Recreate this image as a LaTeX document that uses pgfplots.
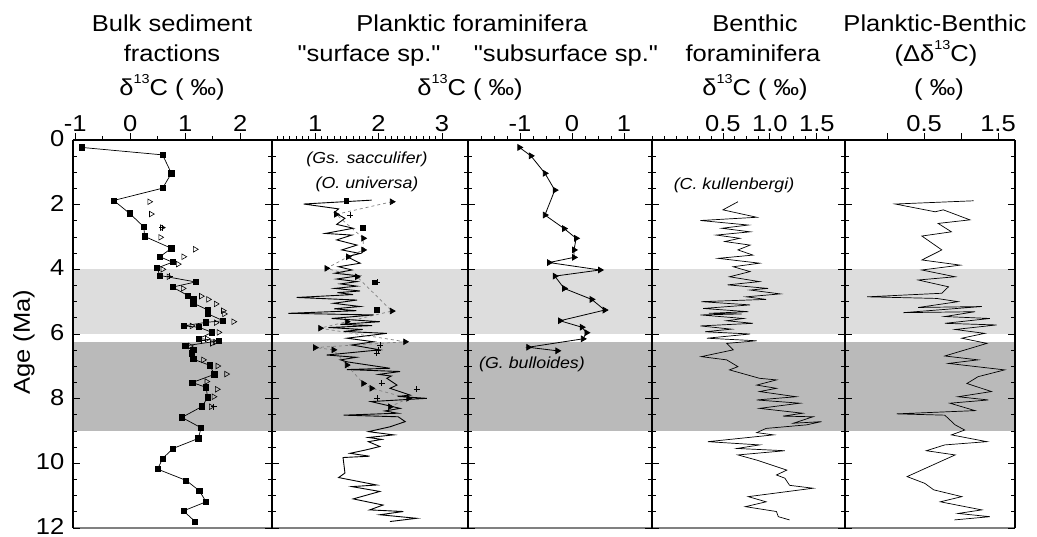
\documentclass[border=0pt]{standalone}
\usepackage{fontspec}
\setmainfont{Liberation Sans}[FakeStretch=1.11]
\newfontfamily\qfont{Liberation Sans}[FakeStretch=1.11]
\usepackage{pgfplots}
\pgfplotsset{compat=1.18}
\definecolor{bandlight}{RGB}{221,221,221}
\definecolor{banddark}{RGB}{186,186,186}
\newcommand{\T}{\fontsize{23}{28}\selectfont}
\newcommand{\A}{\fontsize{16}{20}\selectfont\itshape}
\newcommand{\up}[1]{\raisebox{0.55em}{\fontsize{13}{13}\selectfont #1}}
\newcommand{\dC}{δ\up{13}C}
% grey bands and grey base line, drawn in each panel
\newcommand{\bands}[2]{%
  \fill[bandlight] (axis cs:#1,4) rectangle (axis cs:#2,6);
  \fill[banddark] (axis cs:#1,6.25) rectangle (axis cs:#2,9);
  \draw[gray, line width=2.5pt] (axis cs:#1,12) -- (axis cs:#2,12);}
\pgfplotsset{
  panel/.style={
    scale only axis, height=388pt, ymin=0, ymax=12, y dir=reverse,
    axis x line*=top, axis y line*=box, clip=false, axis on top,
    xtick align=outside, ytick align=inside,
    ytick={0,2,...,12}, minor y tick num=3, yticklabels={},
    major tick length=7pt, minor tick length=4pt,
    every tick/.style={black, line width=0.8pt},
    axis line style={line width=1.3pt},
    tick label style={font=\T}, /pgf/number format/assume math mode=true,
    xticklabel style={yshift=-2pt},
  },
  sq/.style={black, line width=0.7pt, mark=square*, mark size=2.6pt},
  otri/.style={only marks, mark=triangle, mark size=3.2pt, mark options={rotate=-90, black, line width=0.6pt}},
  ftri/.style={mark=triangle*, mark size=3.2pt, mark options={rotate=-90, black, solid, fill=black}},
  crs/.style={only marks, mark=+, mark size=3pt, mark options={black, line width=0.6pt}},
}
\begin{document}
\begin{tikzpicture}
\useasboundingbox (0,0) rectangle (1037pt,-537pt);

% bulk sediment
\begin{axis}[panel, at={(73pt,-140pt)}, anchor=north west, width=199pt,
  xmin=-1.04, xmax=2.58, xtick={-1,0,1,2}, minor x tick num=1,
  yticklabels={0,2,4,6,8,10,12}, ytick={0,2,...,12},
  yticklabel style={font=\T, inner sep=0.5pt, text depth=0pt, xshift=-8pt, yshift=1.5pt}]
\bands{-1.04}{2.58}
\addplot[sq] coordinates {(-0.88,0.23)(0.59,0.46)(0.75,1.03)(0.59,1.49)(-0.30,1.87)(-0.01,2.27)(0.25,2.69)(0.26,2.98)(0.75,3.35)(0.54,3.61)(0.77,3.78)(0.49,3.96)(0.54,4.19)(1.19,4.39)(0.77,4.55)(1.05,4.81)(1.15,4.93)(1.15,5.05)(1.42,5.26)(1.42,5.38)(1.69,5.59)(1.38,5.64)(0.97,5.75)(1.25,5.79)(1.49,5.95)(1.25,6.14)(1.62,6.21)(0.99,6.37)(1.15,6.50)(1.12,6.60)(1.15,6.78)(1.45,6.97)(1.53,7.25)(1.13,7.50)(1.38,7.65)(1.41,7.96)(1.31,8.24)(0.94,8.58)(1.29,8.90)(1.24,9.23)(0.78,9.54)(0.59,9.85)(0.50,10.18)(1.02,10.53)(1.26,10.85)(1.38,11.19)(0.97,11.47)(1.18,11.80)};
\addplot[otri] coordinates {(0.35,1.91)(0.38,2.29)(0.58,2.71)(0.55,3.01)(1.18,3.38)(0.97,3.61)(0.87,3.84)(0.59,4.0)(0.70,4.23)(0.96,4.59)(1.29,4.83)(1.42,4.93)(1.56,5.07)(1.69,5.28)(1.71,5.38)(1.88,5.62)(1.56,5.65)(1.12,5.75)(1.61,5.95)(1.40,6.15)(1.55,6.25)(1.49,6.29)(1.09,6.37)(1.33,6.80)(1.59,6.99)(1.75,7.24)(1.39,7.47)(1.58,7.71)(1.52,7.94)(1.47,8.25)};
\addplot[crs] coordinates {(0.58,2.71)(0.72,4.20)(1.42,5.28)(1.30,6.20)(1.52,8.25)};
\end{axis}

% planktic surface
\begin{axis}[panel, at={(272pt,-140pt)}, anchor=north west, width=196pt,
  xmin=0.32, xmax=3.41, xtick={1,2,3}, minor xtick={0.4,0.5,...,2.95}]
\bands{0.32}{3.41}
\addplot[gray, dashed, line width=0.7pt, ftri] coordinates {(2.21,1.91)(1.33,2.30)(1.76,3.04)(1.76,3.40)(1.52,3.61)(1.18,3.97)(1.66,4.23)(2.21,5.29)(1.50,5.62)(1.08,5.82)(2.42,6.24)(1.00,6.42)(1.29,6.49)(1.50,6.96)(1.76,7.53)(1.89,7.68)(2.47,7.99)(2.18,8.25)};
\addplot[black, line width=0.9pt] coordinates {(1.89,1.86)(0.82,1.98)(1.37,2.13)(1.30,2.25)(1.47,2.42)(1.34,2.61)(1.60,2.73)(1.16,2.89)(1.58,2.94)(1.34,3.09)(1.66,3.25)(1.42,3.40)(1.71,3.51)(1.50,3.61)(1.71,3.81)(1.37,3.92)(1.58,4.02)(1.31,4.12)(1.68,4.20)(1.34,4.30)(1.66,4.38)(1.40,4.45)(1.66,4.52)(1.31,4.59)(1.71,4.67)(1.35,4.72)(1.60,4.78)(0.71,4.87)(1.66,4.95)(1.29,5.05)(1.71,5.15)(1.30,5.22)(1.65,5.28)(0.58,5.36)(1.92,5.41)(1.26,5.52)(2.02,5.62)(1.40,5.70)(1.90,5.74)(1.21,5.80)(1.75,5.86)(1.45,5.92)(2.13,5.98)(1.50,6.13)(1.92,6.24)(1.58,6.34)(2.02,6.49)(1.18,6.65)(1.65,6.72)(1.40,6.80)(1.50,6.86)(2.18,7.06)(1.50,7.10)(2.34,7.16)(2.00,7.25)(2.20,7.30)(2.13,7.37)(2.29,7.58)(2.18,7.68)(2.50,7.89)(2.30,7.93)(2.76,7.99)(1.88,8.09)(2.34,8.30)(2.10,8.38)(2.30,8.45)(1.45,8.51)(2.31,8.56)(2.42,8.71)(2.18,8.87)(1.84,9.02)(2.24,9.12)(1.84,9.20)(2.05,9.26)(1.84,9.33)(2.02,9.48)(1.79,9.59)(1.55,9.69)(1.86,9.78)(1.44,9.82)(1.47,10.30)(1.37,10.44)(1.97,10.67)(1.58,10.72)(2.02,10.87)(1.60,11.10)(2.07,11.29)(1.86,11.44)(2.39,11.49)(2.02,11.59)(2.60,11.70)(2.18,11.80)};
\addplot[only marks, mark=square*, mark size=2.4pt, black] coordinates {(1.49,1.88)(1.75,2.71)(1.93,4.40)(1.97,5.26)};
\addplot[crs] coordinates {(1.55,2.32)(1.98,4.40)(2.02,6.35)(1.99,6.49)(1.97,6.60)(2.05,7.53)(2.60,7.71)(1.98,7.99)};
\end{axis}

% planktic subsurface
\begin{axis}[panel, at={(468pt,-140pt)}, anchor=north west, width=184pt,
  xmin=-2.0, xmax=1.54, xtick={-1,0,1}, minor xtick={-1.75,-1.5,-1.25,-0.75,-0.5,-0.25,0.25,0.5,0.75}]
\bands{-2.0}{1.54}
\addplot[black, line width=0.8pt, ftri] coordinates {(-1.01,0.23)(-0.79,0.49)(-0.52,1.03)(-0.33,1.55)(-0.52,2.32)(-0.15,2.74)(0.08,3.04)(0.04,3.40)(0.04,3.63)(-0.44,3.79)(0.54,4.02)(-0.33,4.21)(-0.15,4.59)(0.38,4.93)(0.63,5.26)(-0.23,5.59)(0.19,5.79)(0.28,5.96)(0.21,6.15)(-0.84,6.41)(-0.28,6.52)};
\end{axis}

% benthic
\begin{axis}[panel, at={(652pt,-140pt)}, anchor=north west, width=193pt,
  xmin=-0.255, xmax=1.80, xtick={0.5,1.0,1.5}, xticklabels={0.5,1.0,1.5},
  minor xtick={-0.25,-0.125,0,0.125,0.25,0.375,0.625,0.75,0.875,1.125,1.25,1.375,1.625}]
\bands{-0.255}{1.80}
\addplot[black, line width=0.7pt] coordinates {(0.66,1.91)(0.50,2.16)(0.86,2.39)(0.26,2.49)(0.77,2.63)(0.49,2.73)(0.79,2.84)(0.43,2.94)(0.68,3.04)(0.52,3.14)(0.79,3.25)(0.66,3.40)(0.82,3.56)(0.45,3.66)(0.89,3.81)(0.61,3.92)(0.79,4.07)(0.57,4.23)(0.89,4.38)(0.55,4.48)(0.98,4.59)(0.79,4.64)(1.11,4.76)(0.75,4.85)(0.96,4.93)(0.27,5.00)(0.79,5.10)(0.29,5.21)(0.77,5.31)(0.35,5.36)(0.70,5.38)(0.26,5.41)(0.72,5.52)(0.54,5.59)(0.82,5.67)(0.26,5.75)(0.59,5.85)(0.31,5.93)(0.79,6.00)(0.33,6.13)(0.86,6.21)(0.54,6.29)(0.61,6.49)(0.27,6.70)(0.54,6.80)(0.66,7.01)(0.57,7.11)(0.89,7.37)(1.07,7.42)(0.86,7.58)(1.07,7.68)(0.89,7.78)(1.28,7.94)(0.86,8.04)(1.32,8.14)(0.89,8.30)(1.35,8.45)(1.14,8.54)(1.46,8.56)(1.25,8.76)(1.55,8.71)(1.39,8.81)(0.96,8.92)(0.86,9.05)(1.04,9.12)(0.34,9.33)(0.89,9.43)(0.65,9.54)(1.16,9.61)(0.66,9.74)(0.86,9.90)(1.18,10.21)(1.07,10.36)(1.16,10.46)(1.21,10.68)(1.46,10.77)(0.77,11.03)(0.96,11.19)(0.74,11.34)(1.07,11.49)(1.09,11.65)(1.21,11.75)};
\end{axis}

% planktic-benthic
\begin{axis}[panel, at={(845pt,-140pt)}, anchor=north west, width=170pt,
  xmin=-0.57, xmax=1.73, xtick={0,0.5,1,1.5}, xticklabels={,0.5,,1.5}]
\bands{-0.57}{1.73}
\addplot[black, line width=0.7pt] coordinates {(1.17,1.88)(0.11,1.98)(0.65,2.22)(0.76,2.16)(1.12,2.47)(0.69,2.58)(0.87,2.84)(0.47,2.97)(0.74,3.40)(0.47,3.71)(0.99,3.87)(0.47,4.02)(0.92,4.23)(0.42,4.33)(0.83,4.54)(0.74,4.74)(-0.27,4.85)(0.67,4.90)(0.96,5.00)(0.42,5.18)(1.28,5.15)(0.22,5.34)(1.19,5.31)(0.78,5.46)(1.39,5.52)(0.78,5.67)(1.48,5.72)(0.92,5.86)(1.32,5.98)(1.01,6.13)(1.35,6.29)(0.78,6.68)(1.23,6.80)(0.83,6.91)(1.59,7.11)(1.23,7.32)(1.08,7.53)(1.41,7.78)(0.96,7.94)(1.37,8.04)(0.85,8.14)(1.19,8.37)(0.13,8.47)(0.78,8.51)(0.92,8.81)(1.05,8.97)(0.87,9.12)(1.35,9.33)(0.78,9.43)(0.53,9.61)(0.92,9.74)(0.27,10.41)(0.51,10.62)(0.63,10.82)(1.01,11.03)(0.72,11.19)(1.28,11.44)(0.96,11.55)(1.39,11.65)(0.91,11.75)};
\end{axis}

% titles
\node[anchor=base, font=\T] at (172pt,-32pt) {Bulk sediment};
\node[anchor=base, font=\T] at (172pt,-62pt) {fractions};
\node[anchor=base, font=\T] at (172pt,-96pt) {\dC\ ( ‰)};
\node[anchor=base, font=\T] at (472pt,-32pt) {Planktic foraminifera};
\node[anchor=base, font=\T] at (369pt,-62pt) {\qfont "surface sp."};
\node[anchor=base, font=\T] at (566pt,-62pt) {\qfont "subsurface sp."};
\node[anchor=base, font=\T] at (470pt,-96pt) {\dC\ ( ‰)};
\node[anchor=base, font=\T] at (755pt,-32pt) {Benthic};
\node[anchor=base, font=\T] at (753pt,-62pt) {foraminifera};
\node[anchor=base, font=\T] at (755pt,-96pt) {\dC\ ( ‰)};
\node[anchor=base, font=\T] at (935pt,-32pt) {Planktic-Benthic};
\node[anchor=base, font=\T] at (936pt,-62pt) {(Δ\dC)};
\node[anchor=base, font=\T] at (939pt,-96pt) {( ‰)};
\node[anchor=base, font=\T, rotate=90] at (30pt,-342pt) {Age (Ma)};
% species
\node[font=\A] at (367pt,-159pt) {(Gs. sacculifer)};
\node[font=\A] at (367pt,-184pt) {(O. universa)};
\node[font=\A] at (532pt,-364pt) {(G. bulloides)};
\node[font=\A] at (734pt,-185pt) {(C. kullenbergi)};
\end{tikzpicture}
\end{document}
